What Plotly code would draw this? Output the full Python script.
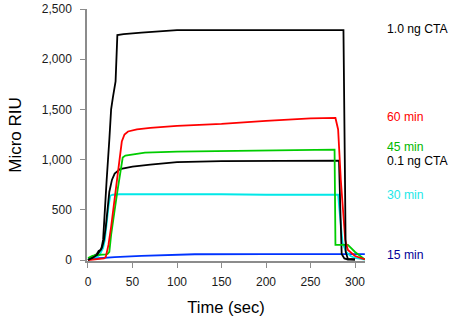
import plotly.graph_objects as go

# Sensorgram traces: time (sec) and response (micro RIU)
t_cta10 = [0, 5, 10, 13, 15, 17, 19, 21, 24, 26, 28, 31, 33, 40, 60, 100, 150, 200, 250, 287, 288.5, 289.5, 292, 300]
v_cta10 = [0, 20, 50, 80, 110, 200, 450, 800, 1200, 1500, 1620, 1780, 2240, 2250, 2265, 2290, 2290, 2290, 2290, 2290, 1000, 80, 10, 5]

t_cta01 = [0, 5, 10, 12, 14, 16, 18, 20, 22, 24, 27, 30, 36, 50, 70, 100, 150, 200, 250, 282, 283.5, 285, 288, 292, 300]
v_cta01 = [0, 30, 60, 90, 100, 130, 200, 330, 500, 680, 800, 860, 905, 930, 950, 975, 985, 985, 990, 990, 500, 60, 15, 5, 5]

t_60 = [0, 10, 18, 20, 23, 26, 28, 31, 33, 36, 38, 41, 45, 55, 70, 100, 150, 200, 250, 278, 281, 284, 287, 289, 292, 300, 311]
v_60 = [0, 5, 15, 30, 150, 330, 470, 680, 800, 1050, 1180, 1250, 1280, 1300, 1315, 1335, 1355, 1385, 1410, 1415, 1300, 800, 400, 200, 100, 40, 5]

t_45 = [0, 5, 10, 15, 20, 22, 24, 26, 28, 30, 33, 35, 37, 39, 42, 64, 100, 150, 200, 250, 277, 278, 292, 300, 311]
v_45 = [20, 40, 50, 50, 55, 60, 80, 250, 400, 500, 680, 800, 950, 1020, 1040, 1070, 1080, 1085, 1090, 1095, 1100, 150, 150, 80, 5]

t_30 = [0, 5, 10, 13, 15, 17, 19, 21, 23, 25, 28, 35, 50, 100, 150, 200, 250, 281, 283, 286, 290, 295, 300, 311]
v_30 = [10, 20, 30, 50, 80, 120, 200, 380, 530, 640, 650, 655, 655, 660, 655, 650, 650, 650, 450, 170, 80, 40, 20, 5]

t_15 = [0, 10, 30, 60, 90, 120, 200, 250, 311]
v_15 = [10, 18, 28, 42, 52, 57, 58, 58, 58]

series = [
    ("1.0 ng CTA", t_cta10, v_cta10, "#000000", "#000000", 2300),
    ("60 min", t_60, v_60, "#ff0000", "#ff0000", 1420),
    ("45 min", t_45, v_45, "#00cc00", "#00b800", 1130),
    ("0.1 ng CTA", t_cta01, v_cta01, "#000000", "#000000", 985),
    ("30 min", t_30, v_30, "#00e8e8", "#22e8e8", 650),
    ("15 min", t_15, v_15, "#0033ff", "#000099", 50),
]

FONT = "Arial, Liberation Sans, sans-serif"

fig = go.Figure()
# draw bottom series first so the black traces sit on top
for name, t, v, lc, tc, ly in reversed(series):
    fig.add_trace(go.Scatter(x=t, y=v, mode="lines", name=name,
                             line=dict(color=lc, width=1.8), showlegend=False))

for name, t, v, lc, tc, ly in series:
    fig.add_annotation(x=1.071, xref="paper", y=ly, yref="y", text=name,
                       showarrow=False, xanchor="left", yanchor="middle",
                       font=dict(family=FONT, size=12.2, color=tc))

axis_common = dict(showline=True, linecolor="#8c8c8c", linewidth=1.5,
                   ticks="outside", ticklen=5, tickcolor="#8c8c8c", tickwidth=1,
                   showgrid=False, zeroline=False,
                   tickfont=dict(family=FONT, size=12, color="#1a1a1a"))

fig.update_xaxes(range=[-1.1, 311.2], tickvals=[0, 50, 100, 150, 200, 250, 300],
                 title=dict(text="Time (sec)", font=dict(family=FONT, size=16.5, color="#000000"),
                            standoff=13),
                 ticklabelstandoff=4, **axis_common)
fig.update_yaxes(range=[-10, 2500], tickvals=[0, 500, 1000, 1500, 2000, 2500],
                 tickformat=",d",
                 title=dict(text="Micro RIU", font=dict(family=FONT, size=17, color="#000000"),
                            standoff=16),
                 ticklabelstandoff=6, **axis_common)

fig.update_layout(width=450, height=325, margin=dict(l=87, r=85, t=9, b=64, autoexpand=False),
                  plot_bgcolor="white", paper_bgcolor="white")

fig.write_html("out.html")
